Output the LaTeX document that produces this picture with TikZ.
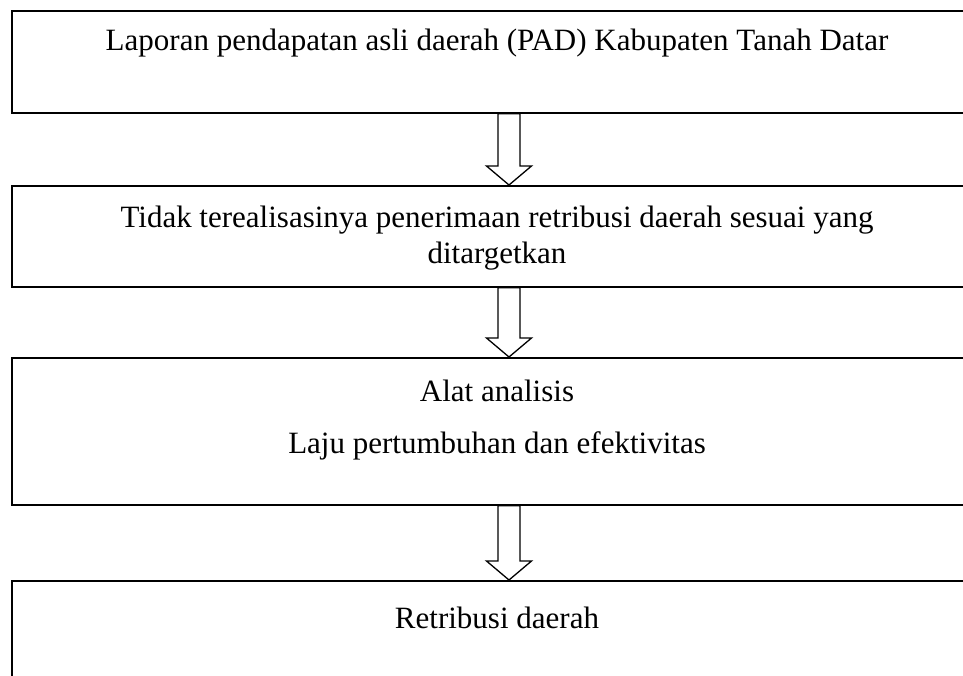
\documentclass[tikz,border=0pt]{standalone}
\usepackage{fontspec}
\setmainfont{Liberation Serif}
\usetikzlibrary{calc}
\newcommand\hollowarrow[2]{%
  \coordinate (hs) at (#1.south -| ax);
  \coordinate (he) at (#2.north -| ax);
  \draw[blockarr] ($(hs)+(-11,0)$) -- ($(he)+(-11,-19)$) -- ($(he)+(-22.5,-19)$)
    -- (he) -- ($(he)+(22.5,-19)$) -- ($(he)+(11,-19)$) -- ($(hs)+(11,0)$) -- cycle;
}
\begin{document}
\begin{tikzpicture}[x=1pt,y=-1pt,
  box/.style={draw, line width=1.8pt, rectangle, anchor=north west, inner sep=0pt, minimum width=974pt},
  txt/.style={anchor=base, inner sep=0pt, font=\fontsize{31}{36}\selectfont},
  blockarr/.style={draw, line width=1.3pt, fill=white, line join=miter}]
\useasboundingbox (0,0) rectangle (963,675);
\coordinate (ax) at (509,0);
\node[box, minimum height=102pt] (b1) at (11,10) {};
\node[box, minimum height=101pt] (b2) at (11,185) {};
\node[box, minimum height=147pt] (b3) at (11,357) {};
\node[box, minimum height=150pt] (b4) at (11,580) {};
\hollowarrow{b1}{b2}
\hollowarrow{b2}{b3}
\hollowarrow{b3}{b4}
\node[txt] (t1) at (497,50) {Laporan pendapatan asli daerah (PAD) Kabupaten Tanah Datar};
\node[txt] (t2a) at (497,227) {Tidak terealisasinya penerimaan retribusi daerah sesuai yang};
\node[txt] (t2b) at (497,263) {ditargetkan};
\node[txt] (t3a) at (497,401) {Alat analisis};
\node[txt] (t3b) at (497,453) {Laju pertumbuhan dan efektivitas};
\node[txt] (t4) at (497,628) {Retribusi daerah};
\end{tikzpicture}
\end{document}
